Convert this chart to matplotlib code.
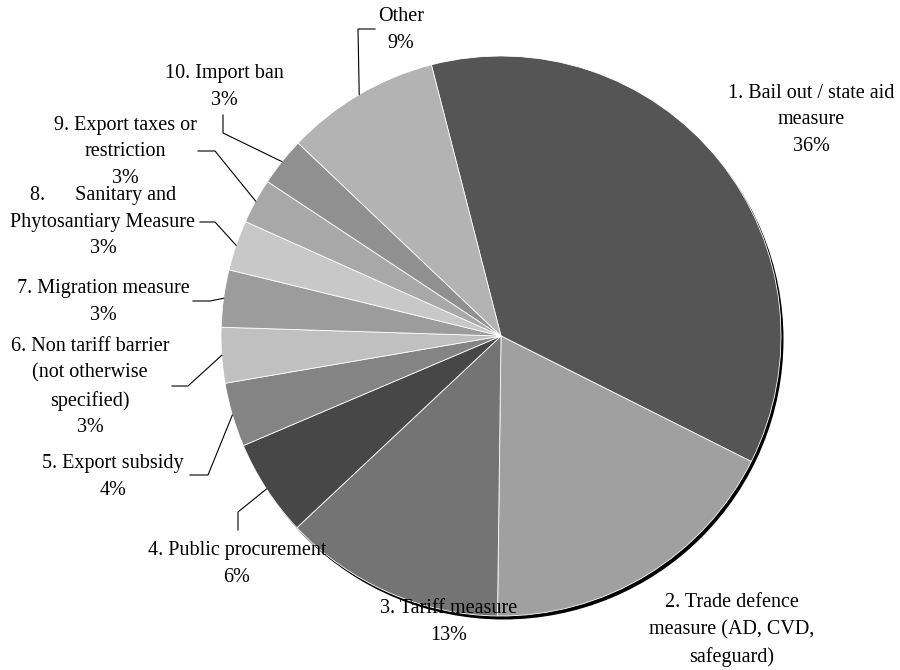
import matplotlib
matplotlib.use("Agg")
import matplotlib.pyplot as plt
import numpy as np
from matplotlib.patches import Circle

# Shares of measures by type (percent)
categories = [
    "1. Bail out / state aid\nmeasure",
    "2. Trade defence\nmeasure (AD, CVD,\nsafeguard)",
    "3. Tariff measure",
    "4. Public procurement",
    "5. Export subsidy",
    "6. Non tariff barrier\n(not otherwise\nspecified)",
    "7. Migration measure",
    "8.      Sanitary and\nPhytosantiary Measure",
    "9. Export taxes or\nrestriction",
    "10. Import ban",
    "Other",
]
shares = [36.4, 17.8, 12.8, 5.6, 3.7, 3.2, 3.3, 2.9, 2.6, 2.8, 8.9]
colors = ["#555555", "#a0a0a0", "#747474", "#474747", "#848484", "#c0c0c0",
          "#9c9c9c", "#c8c8c8", "#a8a8a8", "#909090", "#b3b3b3"]
# the trade-defence label runs past the bottom edge, so its share line is left off
show_share = [True, False, True, True, True, True, True, True, True, True, True]

W, H = 900, 670
plt.rcParams["font.family"] = ["Liberation Serif", "DejaVu Serif"]

fig = plt.figure(figsize=(W / 100, H / 100), dpi=100)
ax = fig.add_axes([0, 0, 1, 1])


def P(x, y):
    """Pixel position (origin top-left) to axes data coordinates."""
    return (x, H - y)


center = P(501, 336)
radius = 280

# drop shadow on the lower right
ax.add_patch(Circle((center[0] + 2.5, center[1] - 3.5), radius,
                    facecolor="black", edgecolor="none", zorder=1))

wedges, _ = ax.pie(shares, colors=colors, startangle=104.4, counterclock=False,
                   center=center, radius=radius,
                   wedgeprops=dict(edgecolor="white", linewidth=0.6))
for w in wedges:
    w.set_zorder(2)

ax.set_xlim(0, W)
ax.set_ylim(0, H)
ax.set_aspect("equal")
ax.axis("off")

# label block centres and leader-line start / elbow points
label_pos = [(811, 120), (732, 630), (449, 622), (237, 564), (113, 477),
             (90, 387), (103, 302), (103, 222), (125, 152), (224, 87),
             (401, 30)]
leaders = [None, None, None,
           [(238, 530), (238, 512)],
           [(190, 475), (208, 475)],
           [(172, 386), (188, 386)],
           [(193, 301), (210, 301)],
           [(200, 222), (215, 222)],
           [(198, 151), (215, 151)],
           [(223, 115), (223, 133)],
           [(375, 29), (358, 29)]]

for w, cat, val, show, pos, lead in zip(wedges, categories, shares, show_share,
                                        label_pos, leaders):
    txt = f"{cat}\n{val:.0f}%" if show else cat
    ax.text(*P(*pos), txt, ha="center", va="center",
            multialignment="center", fontsize=14.5, linespacing=1.55,
            color="black", zorder=5)
    if lead is not None:
        mid = np.deg2rad((w.theta1 + w.theta2) / 2)
        ex = center[0] + radius * np.cos(mid)
        ey = center[1] + radius * np.sin(mid)
        xs = [P(*lead[0])[0], P(*lead[1])[0], ex]
        ys = [P(*lead[0])[1], P(*lead[1])[1], ey]
        ax.plot(xs, ys, color="black", linewidth=0.8, zorder=4)

fig.savefig("out.png", dpi=100, facecolor="white")
